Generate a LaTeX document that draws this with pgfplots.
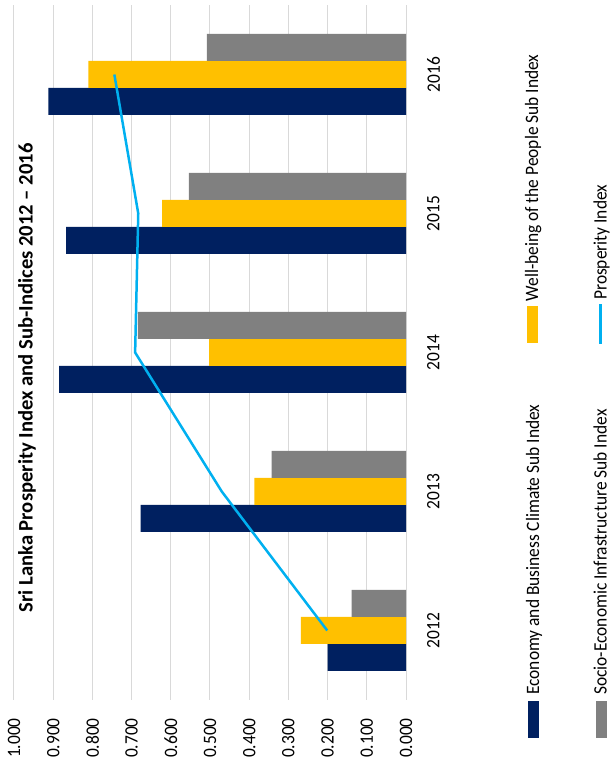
\documentclass[border=0pt]{standalone}
\usepackage{fontspec}
\setmainfont{Carlito}[FakeStretch=0.92]
\newfontfamily\titlefont{Carlito}
\usepackage{pgfplots}
\pgfplotsset{compat=1.18}
\definecolor{navy}{HTML}{002060}
\definecolor{gold}{HTML}{FFC000}
\definecolor{midgray}{HTML}{808080}
\definecolor{skyline}{HTML}{00B0F0}
\definecolor{gridgray}{HTML}{D9D9D9}
\begin{document}
\begin{tikzpicture}[x=1bp,y=1bp]
\path[use as bounding box] (0,0) rectangle (611,765);
\begin{axis}[
  at={(14bp,65bp)}, anchor=south west,
  scale only axis, width=392bp, height=695bp,
  xmin=0, xmax=1, ymin=-0.5, ymax=4.5,
  x dir=reverse,
  axis line style={draw=none},
  major tick length=0pt,
  xtick={0,0.1,0.2,0.3,0.4,0.5,0.6,0.7,0.8,0.9,1.0},
  xticklabels={0.000,0.100,0.200,0.300,0.400,0.500,0.600,0.700,0.800,0.900,1.000},
  xmajorgrids, grid style={draw=gridgray, line width=1bp},
  ytick={0,1,2,3,4},
  yticklabels={2012,2013,2014,2015,2016},
  yticklabel pos=right,
  tick label style={font=\fontsize{19}{20}\selectfont},
  xticklabel style={yshift=-18bp, rotate=90, anchor=east, inner sep=0pt},
  yticklabel style={xshift=21bp, rotate=90, anchor=north, inner sep=0pt},
  bar width=27bp,
]
\addplot[xbar, bar shift=-27bp, fill=navy, draw=none]
  coordinates {(0.200,0) (0.677,1) (0.885,2) (0.867,3) (0.912,4)};
\addplot[xbar, bar shift=0bp, fill=gold, draw=none]
  coordinates {(0.268,0) (0.387,1) (0.502,2) (0.622,3) (0.810,4)};
\addplot[xbar, bar shift=27bp, fill=midgray, draw=none]
  coordinates {(0.139,0) (0.343,1) (0.684,2) (0.554,3) (0.508,4)};
\addplot[sharp plot, skyline, line width=2.5bp, mark=none]
  coordinates {(0.201,0) (0.470,1) (0.691,2) (0.683,3) (0.744,4)};
\end{axis}
% title
\node[rotate=90, inner sep=0pt, font=\titlefont\bfseries\fontsize{20.7}{21}\selectfont] at (27,387)
  {Sri Lanka Prosperity Index and Sub-Indices 2012 – 2016};
% legend (rotated, as in the reference)
\fill[navy] (528.3,26.7) rectangle (539.3,64.3);
\node[rotate=90, anchor=base west, inner sep=0pt, font=\fontsize{19}{20}\selectfont] at (539,70)
  {Economy and Business Climate Sub Index};
\fill[gold] (526.7,421.7) rectangle (537.7,459);
\node[rotate=90, anchor=base west, inner sep=0pt, font=\fontsize{19}{20}\selectfont] at (538,463.3)
  {Well-being of the People Sub Index};
\fill[midgray] (596,26.7) rectangle (607,64.3);
\node[rotate=90, anchor=base west, inner sep=0pt, font=\fontsize{19}{20}\selectfont] at (606.5,70)
  {Socio-Economic Infrastructure Sub Index};
\draw[skyline, line width=3.3bp] (600.5,421) -- (600.5,461);
\node[rotate=90, anchor=base west, inner sep=0pt, font=\fontsize{19}{20}\selectfont] at (606.5,465)
  {Prosperity Index};
\end{tikzpicture}
\end{document}
